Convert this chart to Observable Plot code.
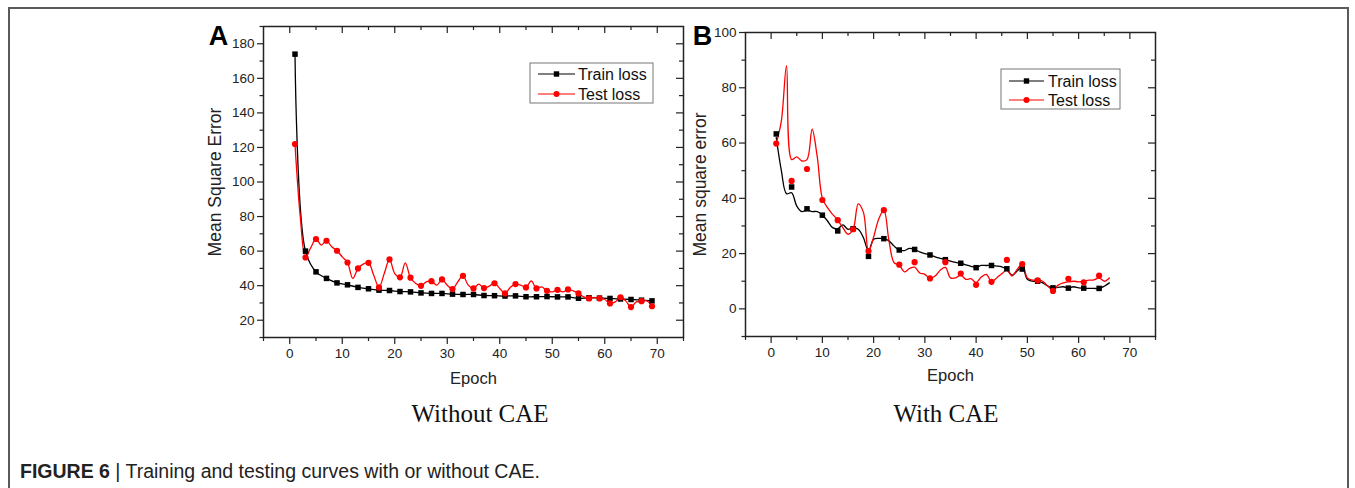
<!DOCTYPE html>
<html><head><meta charset="utf-8">
<script src="https://cdn.jsdelivr.net/npm/d3@7"></script>
<script src="https://cdn.jsdelivr.net/npm/@observablehq/plot@0.6"></script>
<style>
body{margin:0;background:#fff;}
#wrap{position:relative;width:1355px;height:488px;overflow:hidden;background:#fff;font-family:"Liberation Sans",Arial,sans-serif;}
#border{position:absolute;left:8px;top:7px;width:1337px;height:520px;border:2px solid #5a5a5a;}
.panel{position:absolute;top:0;}
.sub{position:absolute;top:401px;line-height:25px;font-family:"Liberation Serif","Times New Roman",serif;font-size:25px;color:#111;transform:translateX(-50%);white-space:nowrap}
#caption{position:absolute;left:20px;top:462px;line-height:19px;font-size:19.5px;color:#222;white-space:nowrap}
#legend{position:absolute;left:0;top:0;pointer-events:none}
</style></head>
<body><div id="wrap">
<div id="border"></div>
<div id="pA" class="panel" style="left:0px"></div>
<div id="pB" class="panel" style="left:680px"></div>
<div class="sub" style="left:480px">Without CAE</div>
<div class="sub" style="left:946px">With CAE</div>
<div id="caption"><b>FIGURE 6</b> | Training and testing curves with or without CAE.</div>
</div>
<script>
// ---------- Panel A (without CAE) ----------
const trainA_epoch = [1,3,5,7,9,11,13,15,17,19,21,23,25,27,29,31,33,35,37,39,41,43,45,47,49,51,53,55,57,59,61,63,65,67,69];
const trainA_mse = [174,60,48,44.2,41.6,40.5,39,38.2,37.4,37.2,36.6,36.4,35.8,35.5,35.5,35.1,34.9,34.9,34.3,34.2,34.0,34.1,33.6,33.6,33.7,33.5,33.5,32.7,33.0,32.8,32.6,32.3,32.0,31.6,31.2];
const testA_epoch = [1,2,3,4,5,6,7,8,9,10,11,12,13,14,15,16,17,18,19,20,21,22,23,24,25,26,27,28,29,30,31,32,33,34,35,36,37,38,39,40,41,42,43,44,45,46,47,48,49,50,51,52,53,54,55,56,57,58,59,60,61,62,63,64,65,66,67,68,69];
const testA_mse = [122,80,56.3,62,67,63.5,66,62.5,60.2,56.7,
  53.4,44.2,50,52.5,53.2,46,39,47,55.2,47,
  44.8,53.2,44.6,41.3,39.9,42.2,42.6,40.3,43.6,40.3,
  38,42.2,45.7,40.3,38.4,40.9,38.6,39.7,41.4,38.4,
  35.5,39,40.9,40.3,39,42.8,38.4,39.3,37,36.4,
  37.6,36.4,37.8,37,35.5,33.5,32.6,33.2,32.6,32,
  29.7,30.6,33.3,31.2,27.6,30.6,31,31.2,28.1];

// ---------- Panel B (with CAE) ----------
const lineB_epoch = [1,2,3,4,5,6,7,8,9,10,11,12,13,14,15,16,17,18,19,20,21,22,23,24,25,26,27,28,29,30,31,32,33,34,35,36,37,38,39,40,41,42,43,44,45,46,47,48,49,50,51,52,53,54,55,56,57,58,59,60,61,62,63,64,65,66];
const trainB_line = [62,50,41.7,42,37.2,35.2,35.7,35.2,35.2,34,
  31.8,29.4,29,30.4,28.8,29.4,28.8,25.8,20.9,25.2,
  25.5,25.4,24.6,22.7,21.3,21.1,21.9,21.5,20.6,20,
  19.5,18.8,18.3,17.8,17.3,16.8,16.5,15.9,15.4,15.1,
  15.7,15.7,15.7,15.5,15.2,14.3,12.2,13.7,15.2,10.7,
  10,10,9.4,8.2,7.6,7.8,8,7.6,8,7.6,
  7.4,7.4,7.4,7.4,8.2,9.4];
const testB_line = [59.8,68,88,54,55,53.5,54,65,55,40,
  36.6,34.2,32.1,29.4,27,28.8,38,35,20.9,26,
  32.5,35.7,24.6,16.7,15.9,13.4,14.6,15.1,13,12.5,
  11,11.9,14,15,11.2,11.2,12.2,10.7,10.9,9.5,
  11.5,12.5,9.8,11.2,12.7,14,11.9,14.3,16.3,11.2,
  10.4,10.5,10,8.2,6.8,8.6,9.4,9.8,10,9.8,
  10,10.4,10.5,11.2,10,11.2];
const markB_epoch = [1,4,7,10,13,16,19,22,25,28,31,34,37,40,43,46,49,52,55,58,61,64];
const trainB_mk = [63.3,44.1,36.2,33.9,28.2,29,19,25.4,21.3,21.5,19.5,17.8,16.5,14.9,15.7,14.5,14.4,10,7.6,7.5,7.5,7.4];
const testB_mk = [59.8,46.3,50.6,39.4,32.1,28.8,20.9,35.7,16,16.9,11,16.9,12.8,8.7,9.8,17.7,16.2,10.3,6.5,10.9,9.6,12];

// ticks
const xMajor = [0,10,20,30,40,50,60,70];
const xMinor = [-5,5,15,25,35,45,55,65,75];
const yMajorA = [20,40,60,80,100,120,140,160,180];
const yMinorA = [10,30,50,70,90,110,130,150,170,190];
const yMajorB = [0,20,40,60,80,100];
const yMinorB = [-10,10,30,50,70,90];

const zip = (xs, ys) => xs.map((x, i) => ({epoch: x, mse: ys[i]}));

function panel(o) {
  const W = o.width - o.mL - o.mR, H = o.height - o.mT - o.mB;
  const ax = {stroke: "#222", strokeWidth: 1.2};
  const inner = (a, dom) => a.filter(v => v > dom[0] && v < dom[1]);
  return Plot.plot({
    width: o.width, height: o.height,
    marginLeft: o.mL, marginRight: o.mR, marginTop: o.mT, marginBottom: o.mB,
    x: {domain: [-5, 75]},
    y: {domain: o.yDomain},
    style: {fontFamily: "'Liberation Sans', Arial, sans-serif", fontSize: "13px", color: "#222", background: "transparent", overflow: "visible"},
    marks: [
      Plot.axisY({ticks: o.yMajor, tickSize: 6, tickPadding: 3, fontSize: 13.5, label: null, tickFormat: d => d, ...ax}),
      Plot.axisX({ticks: xMajor, tickSize: 7, tickPadding: 4, fontSize: 13.5, label: null, tickFormat: d => d, ...ax}),
      Plot.tickY(o.yMinor, {y: d => d, insetLeft: -3.5, insetRight: W, ...ax}),
      Plot.tickX(xMinor, {x: d => d, insetTop: H, insetBottom: -4, ...ax}),
      Plot.tickX(xMajor, {x: d => d, insetBottom: H - 7, ...ax}),
      Plot.tickX(inner(xMinor, [-5, 75]), {x: d => d, insetBottom: H - 4, ...ax}),
      Plot.tickY(inner(o.yMajor, o.yDomain), {y: d => d, insetLeft: W - 7, ...ax}),
      Plot.tickY(inner(o.yMinor, o.yDomain), {y: d => d, insetLeft: W - 4, ...ax}),
      Plot.frame({stroke: "#222", strokeWidth: 1.5}),
      Plot.line(o.trainLine, {x: "epoch", y: "mse", stroke: "#000", strokeWidth: 1.3, curve: "catmull-rom"}),
      Plot.line(o.testLine, {x: "epoch", y: "mse", stroke: "#ff0000", strokeWidth: 1.3, curve: "catmull-rom"}),
      Plot.dot(o.trainPts, {x: "epoch", y: "mse", symbol: "square", fill: "#000", r: 3.1}),
      Plot.dot(o.testPts, {x: "epoch", y: "mse", fill: "#ff0000", r: 3.1}),
      Plot.text([o.ylabel], {text: d => d, frameAnchor: "left", dx: o.ylabelDx, rotate: -90, textAnchor: "middle", lineAnchor: "middle", fontSize: 17.5, fill: "#222"}),
      Plot.text(["Epoch"], {text: d => d, frameAnchor: "bottom", dy: o.xlabelDy, lineAnchor: "middle", fontSize: 16.5, fill: "#222"}),
      Plot.text([o.letter], {text: d => d, frameAnchor: "top-left", dx: o.letterDx, dy: o.letterDy, textAnchor: "middle", lineAnchor: "middle", fontSize: 27, fontWeight: "bold", fill: "#000"})
    ]
  });
}

const testA = zip(testA_epoch, testA_mse);
const trainA = zip(trainA_epoch, trainA_mse);
document.getElementById("pA").appendChild(panel({
  width: 700, height: 400, mL: 263, mR: 17, mT: 26, mB: 63,
  yDomain: [10, 190], yMajor: yMajorA, yMinor: yMinorA,
  trainLine: trainA, testLine: testA,
  trainPts: trainA, testPts: testA.filter(d => d.epoch % 2 === 1),
  ylabel: "Mean Square Error", ylabelDx: -48, xlabelDy: 41,
  letter: "A", letterDx: -45, letterDy: 10
}));

document.getElementById("pB").appendChild(panel({
  width: 500, height: 400, mL: 65, mR: 25, mT: 32, mB: 64,
  yDomain: [-10, 100], yMajor: yMajorB, yMinor: yMinorB,
  trainLine: zip(lineB_epoch, trainB_line), testLine: zip(lineB_epoch, testB_line),
  trainPts: zip(markB_epoch, trainB_mk), testPts: zip(markB_epoch, testB_mk),
  ylabel: "Mean square error", ylabelDx: -45, xlabelDy: 39,
  letter: "B", letterDx: -43, letterDy: 4
}));

// ---------- legends ----------
const legendLabels = ["Train loss", "Test loss"];
function legendSVG(x, y, w, h, y1, y2, lx1, lx2, tx) {
  const ys = [y1, y2], cols = ["#000", "#ff0000"];
  let s = `<rect x="${x}" y="${y}" width="${w}" height="${h}" fill="#fff" stroke="#777" stroke-width="1"/>`;
  legendLabels.forEach((lab, i) => {
    const cy = ys[i], mx = (lx1 + lx2) / 2;
    s += `<line x1="${lx1}" x2="${lx2}" y1="${cy}" y2="${cy}" stroke="${cols[i]}" stroke-width="1.2"/>`;
    s += i === 0 ? `<rect x="${mx - 2.7}" y="${cy - 2.7}" width="5.4" height="5.4" fill="#000"/>`
                 : `<circle cx="${mx}" cy="${cy}" r="3" fill="#ff0000"/>`;
    s += `<text x="${tx}" y="${cy + 5.5}" font-size="16" font-family="'Liberation Sans', Arial, sans-serif" fill="#111">${lab}</text>`;
  });
  return s;
}
const lg = document.createElementNS("http://www.w3.org/2000/svg", "svg");
lg.setAttribute("id", "legend"); lg.setAttribute("width", 1355); lg.setAttribute("height", 488);
lg.innerHTML = legendSVG(530, 63, 123, 40, 74, 94, 538, 575, 578) + legendSVG(1001, 69, 119, 40, 81, 100, 1009, 1044, 1048);
document.getElementById("wrap").appendChild(lg);
</script>
</body></html>
